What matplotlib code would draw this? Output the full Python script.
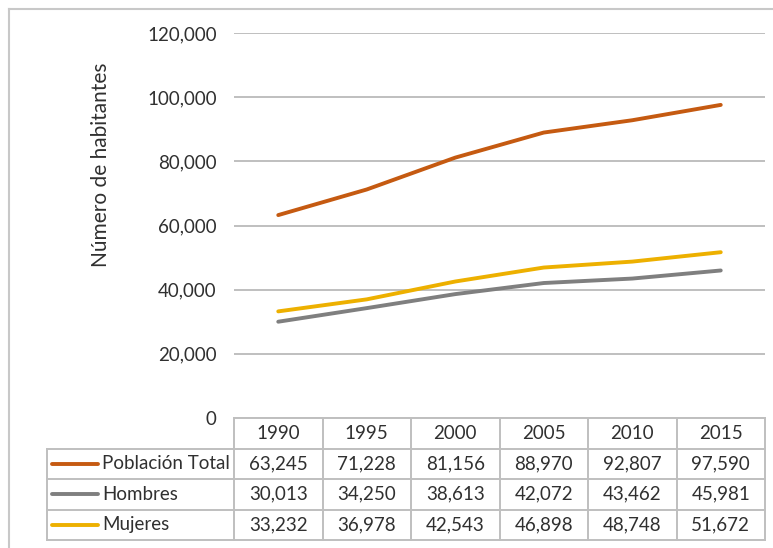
import numpy as np
import matplotlib
matplotlib.use('Agg')
import matplotlib.pyplot as plt
from matplotlib.ticker import FuncFormatter
from matplotlib.lines import Line2D

plt.rcParams['font.family'] = ['Lato', 'DejaVu Sans']

#=====================
# Datos de la gráfica.
#=====================

anios = [1990, 1995, 2000, 2005, 2010, 2015]
series = ['Población Total', 'Hombres', 'Mujeres']
poblacion_total = [63245, 71228, 81156, 88970, 92807, 97590]
hombres = [30013, 34250, 38613, 42072, 43462, 45981]
mujeres = [33232, 36978, 42543, 46898, 48748, 51672]
colores = ['#C55A11', '#7F7F7F', '#EDB000']
valores = [poblacion_total, hombres, mujeres]

W, H = 773, 548  # Tamaño en pixeles.
GRIS = '#BFBFBF'
TXT = '#303030'
FS = 13.5

fig = plt.figure(figsize=(W / 100, H / 100), dpi=100)

# Marco de la figura (recortado a la derecha y abajo).
fig.add_artist(Line2D([9 / W, 1], [1 - 9 / H, 1 - 9 / H], color='#C8C8C8', lw=1.5))
fig.add_artist(Line2D([9 / W, 9 / W], [0, 1 - 9 / H], color='#C8C8C8', lw=1.5))

#=================
# Área de la curva.
#=================

ax = fig.add_axes([234 / W, 1 - 418 / H, (765 - 234) / W, (418 - 33) / H])
ax.set_xlim(-0.5, len(anios) - 0.5)
ax.set_ylim(0, 120000)
ax.set_yticks(range(0, 120001, 20000))
ax.yaxis.set_major_formatter(FuncFormatter(lambda v, p: f'{int(v):,}'))
ax.set_xticks([])
ax.tick_params(axis='y', length=0, pad=12.5, labelsize=FS, labelcolor=TXT)
for s in ax.spines.values():
    s.set_visible(False)
ax.grid(axis='y', color=GRIS, lw=1.4)
ax.set_axisbelow(True)

x = np.arange(len(anios))
for nombre, v, c in zip(series, valores, colores):
    ax.plot(x, v, color=c, lw=2.8, solid_capstyle='round', solid_joinstyle='round', label=nombre)

fig.text(101 / W, 1 - 165 / H, 'Número de habitantes', rotation=90, ha='center', va='center',
         fontsize=15, color=TXT)

#===================
# Tabla de los datos.
#===================

ancho_col = (765 - 234) / len(anios)
izq = -0.5 - (234 - 47) / ancho_col
tax = fig.add_axes([47 / W, 1 - 540 / H, (765 - 47) / W, (540 - 418) / H])
tax.set_xlim(izq, len(anios) - 0.5)
tax.set_ylim(4, 0)
tax.axis('off')

def px(p):
    return izq + (p - 47) / ancho_col

# Bordes de las celdas.
tax.plot([-0.5, len(anios) - 0.5], [0, 0], color=GRIS, lw=1.4, clip_on=False)
for r in range(1, 5):
    tax.plot([izq, len(anios) - 0.5], [r, r], color=GRIS, lw=1.4, clip_on=False)
tax.plot([izq, izq], [1, 4], color=GRIS, lw=1.4, clip_on=False)
for k in range(len(anios) + 1):
    tax.plot([k - 0.5, k - 0.5], [0, 4], color=GRIS, lw=1.4, clip_on=False)

for i, a in enumerate(anios):
    tax.text(i, 0.5, str(a), ha='center', va='center', fontsize=FS, color=TXT)

for r, (nombre, v, c) in enumerate(zip(series, valores, colores)):
    y = r + 1.5
    tax.plot([px(52), px(98)], [y, y], color=c, lw=2.8, solid_capstyle='round', clip_on=False)
    tax.text(px(102), y, nombre, ha='left', va='center', fontsize=FS, color=TXT)
    for i, val in enumerate(v):
        tax.text(i, y, f'{val:,}', ha='center', va='center', fontsize=FS, color=TXT)

plt.savefig('out.png', dpi=100)
